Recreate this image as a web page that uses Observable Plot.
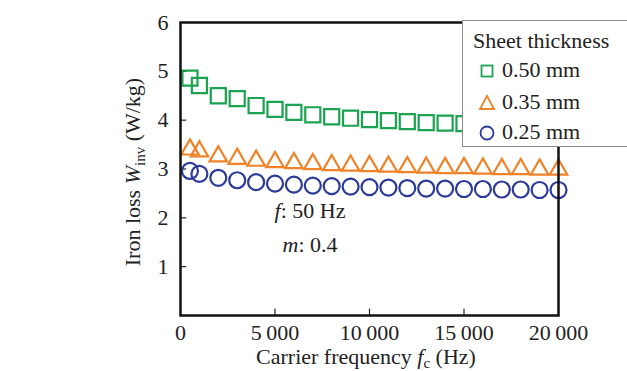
<!DOCTYPE html>
<html><head><meta charset="utf-8">
<script src="https://cdn.jsdelivr.net/npm/d3@7"></script>
<script src="https://cdn.jsdelivr.net/npm/@observablehq/plot@0.6"></script>
<style>
body{margin:0;background:#fff;}
#wrap{position:relative;width:627px;height:371px;overflow:hidden;font-family:"Liberation Serif","Times New Roman",serif;color:#222;}
#wrap svg text{font-family:"Liberation Serif","Times New Roman",serif;}
#legend{position:absolute;left:462px;top:20px;width:167px;height:127px;box-sizing:border-box;border:1px solid #8a8a8a;background:#fff;font-size:22px;}
#legend .row{position:absolute;left:0;white-space:nowrap;}
#legend svg{position:absolute;}
</style>
</head><body><div id="wrap"><div id="legend"></div></div>
<script>
// Carrier frequencies (Hz)
const freqs = [500,1000,2000,3000,4000,5000,6000,7000,8000,9000,10000,11000,12000,13000,14000,15000,16000,17000,18000,19000,20000];
// Iron loss W_inv (W/kg) per sheet thickness
const loss050 = [4.86,4.71,4.50,4.44,4.30,4.22,4.16,4.11,4.07,4.04,4.01,3.99,3.97,3.95,3.94,3.93,3.92,3.91,3.90,3.89,3.88];
const loss035 = [3.40,3.36,3.26,3.21,3.17,3.14,3.12,3.10,3.08,3.07,3.06,3.05,3.04,3.03,3.02,3.02,3.01,3.00,3.00,2.99,2.99];
const loss025 = [2.96,2.90,2.82,2.77,2.73,2.70,2.68,2.66,2.65,2.64,2.63,2.62,2.61,2.60,2.60,2.59,2.59,2.58,2.58,2.57,2.57];
const thickness = ["0.50 mm","0.35 mm","0.25 mm"];
const xTicks = [0,5000,10000,15000,20000];
const yTicks = [1,2,3,4,5,6];

const colors = ["#1ba352","#f08228","#2c3a98"];
const symbols = ["square","triangle","circle"];
const radii = [8.5,6.5,8];
const series = [loss050, loss035, loss025];
const rows = series.map((s,i)=>freqs.map((f,j)=>({f, w:s[j], t:thickness[i]})));

const fmt = d => d >= 1000 ? `${Math.floor(d/1000)}\u2009${String(d%1000).padStart(3,"0")}` : `${d}`;

const plot = Plot.plot({
  width: 627, height: 371,
  marginLeft: 180, marginRight: 69, marginTop: 22, marginBottom: 56,
  style: {fontFamily: '"Liberation Serif","Times New Roman",serif', fontSize: "22px", color: "#222", background: "white"},
  x: {domain: [0,20000]},
  y: {domain: [0,6]},
  marks: [
    Plot.axisX({ticks: xTicks, tickFormat: fmt, tickSize: 0, tickPadding: 9, label: null, fontSize: 22}),
    Plot.axisY({ticks: yTicks, tickFormat: d => `${d}`, tickSize: 0, tickPadding: 12, label: null, fontSize: 22}),
    Plot.ruleX(xTicks.slice(1,-1), {y1: 0, y2: 0.13, stroke: "#222", strokeWidth: 1.2}),
    Plot.ruleY(yTicks.slice(0,-1), {x1: 0, x2: 330, stroke: "#222", strokeWidth: 1.2}),
    ...rows.map((r,i)=>Plot.dot(r, {x: "f", y: "w", symbol: () => symbols[i], r: radii[i], stroke: colors[i], strokeWidth: 2.2, fill: "none"})),
    Plot.frame({stroke: "#111", strokeWidth: 2.5})
  ]
});
document.getElementById("wrap").prepend(plot);

const svg = d3.select(plot);
const serif = '"Liberation Serif","Times New Roman",serif';
// Y-axis title
const yt = svg.append("text").attr("transform","translate(140,172) rotate(-90)")
  .attr("text-anchor","middle").attr("font-size",22).attr("font-family",serif).attr("fill","#222");
yt.append("tspan").text("Iron loss ");
yt.append("tspan").attr("font-style","italic").text("W");
yt.append("tspan").attr("font-size",15).attr("dy",5).text("inv");
yt.append("tspan").attr("dy",-5).text(" (W/kg)");
// X-axis title
const xt = svg.append("text").attr("x",366).attr("y",364)
  .attr("text-anchor","middle").attr("font-size",22).attr("font-family",serif).attr("fill","#222");
xt.append("tspan").text("Carrier frequency ");
xt.append("tspan").attr("font-style","italic").text("f");
xt.append("tspan").attr("font-size",15).attr("dy",4).text("c");
xt.append("tspan").attr("dy",-4).text(" (Hz)");
// Annotations
const a1 = svg.append("text").attr("x",310).attr("y",218).attr("font-size",22).attr("font-family",serif).attr("fill","#222");
a1.append("tspan").attr("font-style","italic").text("f");
a1.append("tspan").text(": 50 Hz");
const a2 = svg.append("text").attr("x",310).attr("y",252).attr("font-size",22).attr("font-family",serif).attr("fill","#222");
a2.append("tspan").attr("font-style","italic").text("m");
a2.append("tspan").text(": 0.4");

// Legend
const lg = document.getElementById("legend");
const title = document.createElement("div");
title.className = "row"; title.style.left = "10px"; title.style.top = "7px";
title.textContent = "Sheet thickness";
lg.appendChild(title);
const rowY = [50, 82, 112];
thickness.forEach((t,i)=>{
  const s = d3.create("svg").attr("width",20).attr("height",20)
    .style("left","14px").style("top",(rowY[i]-10)+"px");
  const g = s.append("g").attr("transform","translate(10,10)");
  if (i===0) g.append("rect").attr("x",-5.5).attr("y",-5.5).attr("width",11).attr("height",11);
  else if (i===1) g.append("path").attr("d","M0,-7L7,6L-7,6Z");
  else g.append("circle").attr("r",6.5);
  g.selectAll("*").attr("fill","none").attr("stroke",colors[i]).attr("stroke-width",1.8);
  lg.appendChild(s.node());
  const d = document.createElement("div");
  d.className = "row"; d.style.left = "39px"; d.style.top = (rowY[i]-14)+"px";
  d.textContent = t;
  lg.appendChild(d);
});
</script></body></html>
